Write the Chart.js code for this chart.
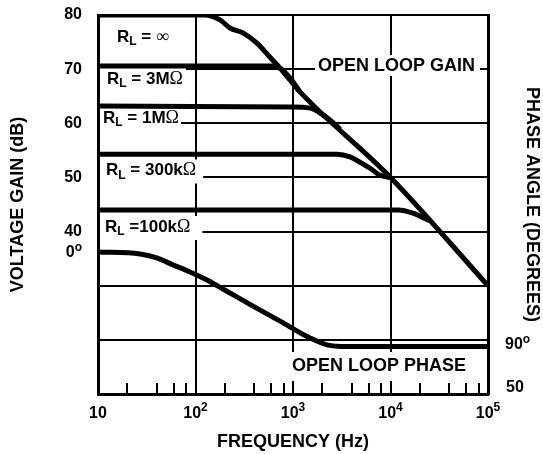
<!DOCTYPE html>
<html>
<head>
<meta charset="utf-8">
<script src="https://cdn.jsdelivr.net/npm/chart.js@4.4.0/dist/chart.umd.min.js"></script>
<style>
  html, body { margin: 0; padding: 0; background: #fff; }
  #wrap { width: 543px; height: 454px; position: relative; }
</style>
</head>
<body>
<div id="wrap"><canvas id="myChart"></canvas></div>
<script>
// gain curves, frequency in Hz, gain in dB
const freqOpen = [10, 125, 178, 226, 307, 427, 581, 736, 931, 1180, 10000, 100000];
const gainOpen = [80, 80, 79.1, 77.6, 76.7, 74.8, 72.2, 70.2, 68, 65.8, 50, 30];

const freq3M = [10, 581, 736, 931, 1180];
const gain3M = [70.6, 70.6, 70.2, 68.4, 65.8];

const freq1M = [10, 931, 1494, 1891, 2395, 3035];
const gain1M = [63.2, 63, 62.8, 61.9, 60.6, 58.9];

const freq300k = [10, 2825, 3845, 4865, 6166, 7802, 10000];
const gain300k = [54.3, 54.3, 53.8, 52.8, 51.7, 50.4, 50];

const freq100k = [10, 12000, 17000, 25000];
const gain100k = [44, 44, 43.4, 42];

// open loop phase, degrees
const freqPhase = [10, 27, 40, 59, 88, 131, 191, 389, 736, 1494, 2233, 3580, 100000];
const phaseDeg = [0, 1.9, 5.7, 12.4, 19.1, 26.8, 35.4, 51.8, 66.2, 82.3, 89, 90.6, 90.6];

// axes
const gainTicks = [10, 20, 30, 40, 50, 60, 70, 80];
const gainLabels = ['', '', '', '40', '50', '60', '70', '80'];
const decades = [10, 100, 1000, 10000, 100000];
const decadeExp = ['', '2', '3', '4', '5'];
const minorMult = [2, 4, 6, 8];

const pts = (xs, ys) => xs.map((x, i) => ({ x: x, y: ys[i] }));

const FAM = '"Liberation Sans", Arial, sans-serif';
const B = 'bold 17px ' + FAM;
const TICK = 'bold 16px ' + FAM;
const SUB = 'bold 12px ' + FAM;
const SYM = '18px "Liberation Serif", serif';

function runsWidth(ctx, runs) {
  let w = 0;
  runs.forEach(r => { ctx.font = r[1]; w += ctx.measureText(r[0]).width; });
  return w;
}
function drawRuns(ctx, runs, x, y) {
  ctx.textBaseline = 'middle';
  ctx.textAlign = 'left';
  let cx = x;
  runs.forEach(r => {
    ctx.font = r[1];
    ctx.fillText(r[0], cx, y + (r[2] || 0));
    cx += ctx.measureText(r[0]).width;
  });
  return cx;
}

const curveLabels = [
  { runs: [['R', B], ['L', SUB, 5], [' = ', B], ['\u221E', SYM]], x: 117, y: 37, pad: 6 },
  { runs: [['R', B], ['L', SUB, 5], [' = 3M', B], ['\u03A9', SYM]], x: 107, y: 79, pad: 3 },
  { runs: [['R', B], ['L', SUB, 5], [' = 1M', B], ['\u03A9', SYM]], x: 103, y: 118, pad: 2 },
  { runs: [['R', B], ['L', SUB, 5], [' = 300k', B], ['\u03A9', SYM]], x: 106, y: 170.5, pad: 7 },
  { runs: [['R', B], ['L', SUB, 5], [' =100k', B], ['\u03A9', SYM]], x: 105, y: 227, pad: 12 }
];

const labelsPlugin = {
  id: 'labels',
  beforeDatasetsDraw(chart) {
    const ctx = chart.ctx;
    const a = chart.chartArea;
    const xs = chart.scales.x;
    ctx.save();
    ctx.fillStyle = '#fff';
    // white boxes behind the curve labels
    curveLabels.forEach(l => {
      const w = runsWidth(ctx, l.runs);
      ctx.fillRect(a.left + 2, l.y - 11, l.x + w + l.pad - a.left - 2, 24);
    });
    ctx.fillRect(315, 55, 165, 21);
    ctx.fillRect(288, 352, 182, 29);

    ctx.fillStyle = '#000';
    curveLabels.forEach(l => drawRuns(ctx, l.runs, l.x, l.y));
    ctx.font = 'bold 18px ' + FAM;
    ctx.textBaseline = 'middle';
    ctx.fillText('OPEN LOOP GAIN', 318, 66);
    ctx.fillText('OPEN LOOP PHASE', 292, 366);

    // minor ticks along the bottom
    ctx.strokeStyle = '#000';
    ctx.lineWidth = 2;
    decades.slice(0, -1).forEach(d => {
      minorMult.forEach(m => {
        const px = Math.round(xs.getPixelForValue(d * m));
        ctx.beginPath();
        ctx.moveTo(px, a.bottom);
        ctx.lineTo(px, a.bottom - 11);
        ctx.stroke();
      });
    });
    ctx.restore();
  },
  afterDraw(chart) {
    const ctx = chart.ctx;
    const a = chart.chartArea;
    const xs = chart.scales.x;
    const y2 = chart.scales.y2;
    ctx.save();
    ctx.fillStyle = '#000';
    // frequency labels with exponents
    decades.forEach((d, i) => {
      const runs = [['10', TICK]];
      if (decadeExp[i]) runs.push([decadeExp[i], SUB, -6]);
      const w = runsWidth(ctx, runs);
      drawRuns(ctx, runs, xs.getPixelForValue(d) - w / 2, a.bottom + 20);
    });
    // phase labels
    const zero = [['0', TICK], ['o', SUB, -5]];
    drawRuns(ctx, zero, 82 - runsWidth(ctx, zero), y2.getPixelForValue(0) + 1);
    drawRuns(ctx, [['90', TICK], ['o', SUB, -5]], a.right + 17, y2.getPixelForValue(90) - 1);
    drawRuns(ctx, [['50', TICK]], a.right + 18, y2.getPixelForValue(130));
    ctx.restore();
  }
};

const lineStyle = {
  borderColor: '#000',
  borderWidth: 5,
  pointRadius: 0,
  fill: false,
  cubicInterpolationMode: 'monotone'
};

const data = {
  datasets: [
    Object.assign({ label: 'RL = inf', data: pts(freqOpen, gainOpen), yAxisID: 'y' }, lineStyle),
    Object.assign({ label: 'RL = 3M', data: pts(freq3M, gain3M), yAxisID: 'y' }, lineStyle),
    Object.assign({ label: 'RL = 1M', data: pts(freq1M, gain1M), yAxisID: 'y' }, lineStyle),
    Object.assign({ label: 'RL = 300k', data: pts(freq300k, gain300k), yAxisID: 'y' }, lineStyle),
    Object.assign({ label: 'RL = 100k', data: pts(freq100k, gain100k), yAxisID: 'y' }, lineStyle),
    Object.assign({ label: 'Open loop phase', data: pts(freqPhase, phaseDeg), yAxisID: 'y2' }, lineStyle)
  ]
};

Chart.defaults.color = '#000';
Chart.defaults.font.family = FAM;

const ctx = document.getElementById('myChart');
new Chart(ctx, {
  type: 'line',
  data: data,
  plugins: [labelsPlugin],
  options: {
    responsive: true,
    maintainAspectRatio: false,
    animation: false,
    layout: { padding: { top: 15, left: 0, right: 0, bottom: 0 } },
    plugins: { legend: { display: false }, tooltip: { enabled: false } },
    scales: {
      x: {
        type: 'logarithmic',
        min: 10,
        max: 100000,
        afterBuildTicks: s => { s.ticks = decades.map(v => ({ value: v })); },
        afterFit: s => { s.height = 60; s.paddingLeft = 0; s.paddingRight = 0; },
        ticks: { display: false },
        grid: { color: '#000', lineWidth: 2, drawTicks: false },
        border: { color: '#000', width: 3 },
        title: { display: true, text: 'FREQUENCY (Hz)', font: { size: 18, weight: 'bold' }, padding: { top: 0, bottom: 1 } }
      },
      y: {
        type: 'linear',
        position: 'left',
        min: 10,
        max: 80,
        afterBuildTicks: s => { s.ticks = gainTicks.map(v => ({ value: v })); },
        afterFit: s => { s.width = 98; s.paddingTop = 0; s.paddingBottom = 0; },
        ticks: {
          autoSkip: false,
          padding: 16,
          font: { size: 16, weight: 'bold' },
          callback: (v) => gainLabels[gainTicks.indexOf(v)]
        },
        grid: { color: '#000', lineWidth: 2, drawTicks: false },
        border: { color: '#000', width: 3 },
        title: { display: true, text: 'VOLTAGE GAIN (dB)', font: { size: 18, weight: 'bold' }, padding: { top: 7, bottom: 0 } }
      },
      y2: {
        type: 'linear',
        position: 'right',
        reverse: true,
        min: -227,
        max: 136,
        afterFit: s => { s.width = 55; s.paddingTop = 0; s.paddingBottom = 0; },
        ticks: { display: false },
        grid: { drawOnChartArea: false, drawTicks: false },
        border: { color: '#000', width: 3 },
        title: { display: true, text: 'PHASE ANGLE (DEGREES)', font: { size: 18, weight: 'bold' }, padding: { top: 0, bottom: 0 } }
      }
    }
  }
});
</script>
</body>
</html>
